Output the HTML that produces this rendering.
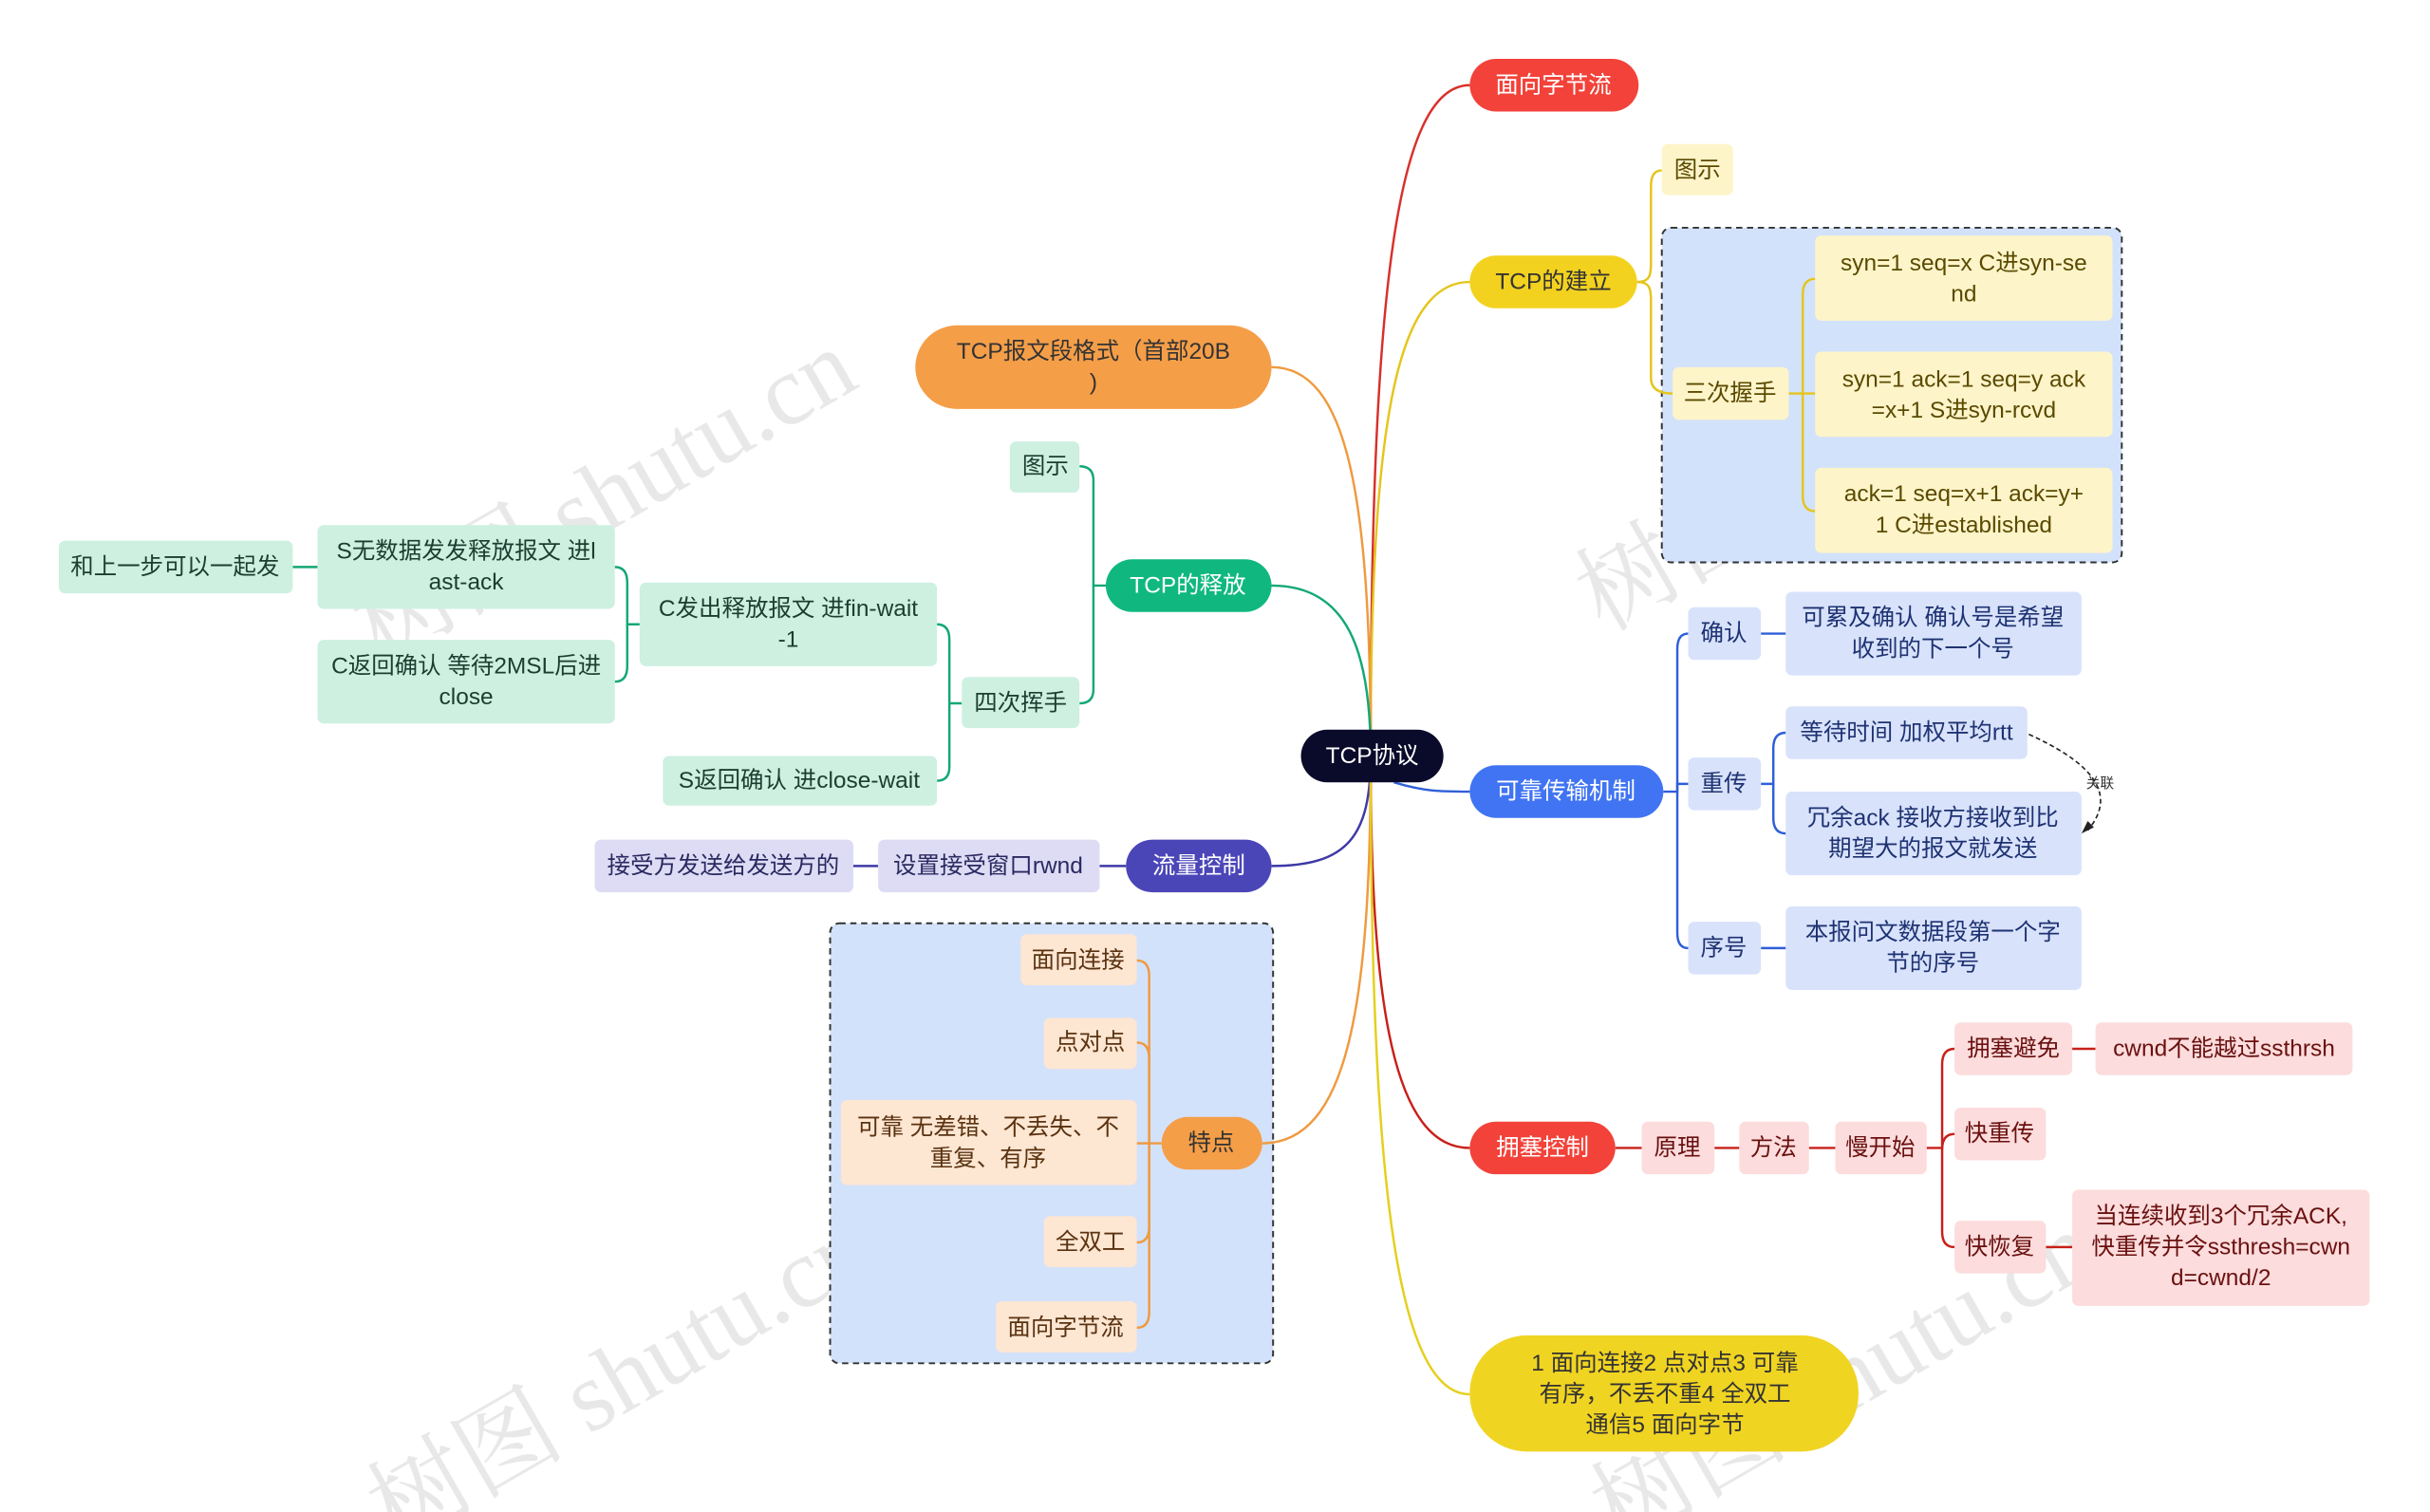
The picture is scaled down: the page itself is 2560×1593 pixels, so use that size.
<!DOCTYPE html>
<html><head><meta charset="utf-8"><style>
html,body{margin:0;padding:0;background:#fff;width:2560px;height:1593px;overflow:hidden}
svg{display:block;overflow:hidden}
text{font-family:"Liberation Sans","Noto Sans CJK SC",sans-serif;font-size:15px;text-anchor:middle;dominant-baseline:central}
</style></head><body>
<svg width="2560" height="1593" viewBox="0 0 1569 976" preserveAspectRatio="none" xmlns="http://www.w3.org/2000/svg">
<defs><clipPath id="c"><rect width="1569" height="976"/></clipPath></defs>
<rect width="1569" height="976" fill="#fff"/>
<g clip-path="url(#c)" fill="#d0d0d0" opacity="0.5">
<text x="390" y="320" transform="rotate(-30 390 320)" style="font-family:'Liberation Serif','Noto Serif CJK SC',serif;font-size:64px">树图 shutu.cn</text>
<text x="1180" y="300" transform="rotate(-30 1180 300)" style="font-family:'Liberation Serif','Noto Serif CJK SC',serif;font-size:64px">树图 shutu.cn</text>
<text x="400" y="890" transform="rotate(-30 400 890)" style="font-family:'Liberation Serif','Noto Serif CJK SC',serif;font-size:64px">树图 shutu.cn</text>
<text x="1190" y="890" transform="rotate(-30 1190 890)" style="font-family:'Liberation Serif','Noto Serif CJK SC',serif;font-size:64px">树图 shutu.cn</text>
</g>
<rect x="1073" y="147" width="297" height="216" rx="6" fill="#d3e2fb" stroke="#333" stroke-dasharray="4 3" stroke-width="1.2"/>
<rect x="536" y="596" width="286" height="284" rx="6" fill="#d3e2fb" stroke="#333" stroke-dasharray="4 3" stroke-width="1.2"/>
<g fill="none" stroke-width="1.5">
<path d="M885 488 C885 200 900 55 949 55" stroke="#d8302a"/>
<path d="M885 488 C885 280 900 182 949 182" stroke="#e5c51c"/>
<path d="M885 488 C885 320 870 237 821 237" stroke="#ef9a40"/>
<path d="M885 488 C885 420 870 378 821 378" stroke="#12a874"/>
<path d="M885 488 C885 540 870 559 821 559" stroke="#3e39a8"/>
<path d="M885 488 C885 650 870 738 815 738" stroke="#ef9a40"/>
<path d="M900 505 C920 511 930 511 949 511" stroke="#2f5fd8"/>
<path d="M885 488 C885 650 900 741 949 741" stroke="#c8201a"/>
<path d="M885 488 C885 750 900 900 949 900" stroke="#e5cf1c"/>
</g>
<g fill="none" stroke="#e5c51c" stroke-width="1.5">
<path d="M1057 182 C1065 182 1066 178 1066 170 L1066 120 Q1066 110 1073 110"/>
<path d="M1057 182 C1065 182 1066 186 1066 194 L1066 244 Q1066 254 1080 254"/>
<path d="M1155 254 L1172 254"/>
<path d="M1172 180 Q1164 180 1164 190 L1164 320 Q1164 330 1172 330"/>
</g>
<g fill="none" stroke="#12a874" stroke-width="1.5">
<path d="M714 378 L706 378 L706 310 Q706 301 697 301"/>
<path d="M706 378 L706 445 Q706 454 697 454"/>
<path d="M621 454 L613 454 L613 413 Q613 403 605 403"/>
<path d="M613 454 L613 495 Q613 504 605 504"/>
<path d="M413 403 L405 403 L405 376 Q405 366 397 366"/>
<path d="M405 403 L405 430 Q405 440 397 440"/>
<path d="M205 366 L189 366"/>
</g>
<path d="M727 559 L710 559 M567 559 L551 559" stroke="#3e39a8" stroke-width="1.5"/>
<g fill="none" stroke="#ef9a40" stroke-width="1.5">
<path d="M750 738 L742 738 L742 630 Q742 620 734 620"/>
<path d="M742 738 L742 683 Q742 673 734 673"/>
<path d="M742 738 L734 738"/>
<path d="M742 738 L742 792 Q742 802 734 802"/>
<path d="M742 738 L742 847 Q742 857 734 857"/>
</g>
<g fill="none" stroke="#2f5fd8" stroke-width="1.5">
<path d="M1074 511 L1083 511 L1083 419 Q1083 409 1090 409"/>
<path d="M1083 511 L1083 506 L1090 506"/>
<path d="M1083 511 L1083 602 Q1083 612 1090 612"/>
<path d="M1137 409 L1153 409 M1137 612 L1153 612"/>
<path d="M1137 506 L1145 506 L1145 483 Q1145 473 1153 473"/>
<path d="M1145 506 L1145 528 Q1145 538 1153 538"/>
</g>
<path d="M1310 474 C1345 490 1370 510 1348 536" fill="none" stroke="#222" stroke-dasharray="3 2" stroke-width="1"/>
<path d="M1344 538 L1352 534 L1348 530 Z" fill="#222"/>
<text x="1356" y="506" style="font-size:9px" fill="#333">关联</text>
<g fill="none" stroke="#c8201a" stroke-width="1.5">
<path d="M1043 741 L1060 741 M1107 741 L1123 741 M1168 741 L1185 741 M1244 741 L1254 741"/>
<path d="M1254 741 L1254 687 Q1254 677 1262 677"/>
<path d="M1254 741 L1254 742 Q1254 732 1262 732"/>
<path d="M1254 741 L1254 795 Q1254 805 1262 805"/>
<path d="M1338 677 L1353 677 M1321 805 L1338 805"/>
</g>
<rect x="840" y="471" width="92" height="34" rx="17" fill="#0a0a2a"/><text x="886" y="488" fill="#fff">TCP协议</text>
<rect x="949" y="38" width="109" height="34" rx="17" fill="#f2423a"/><text x="1003" y="55" fill="#fff">面向字节流</text>
<rect x="949" y="165" width="108" height="34" rx="17" fill="#f3d21f"/><text x="1003" y="182" fill="#333">TCP的建立</text>
<rect x="1073" y="93" width="46" height="33" rx="4" fill="#fdf4c9"/><text x="1096" y="110" fill="#5a4a00">图示</text>
<rect x="1080" y="237" width="75" height="34" rx="4" fill="#fdf4c9"/><text x="1117" y="254" fill="#5a4a00">三次握手</text>
<rect x="1172" y="152" width="192" height="55" rx="4" fill="#fdf4c9"/><text x="1268" y="170" fill="#5a4a00">syn=1 seq=x C进syn-se</text><text x="1268" y="190" fill="#5a4a00">nd</text>
<rect x="1172" y="227" width="192" height="55" rx="4" fill="#fdf4c9"/><text x="1268" y="245" fill="#5a4a00">syn=1 ack=1 seq=y ack</text><text x="1268" y="265" fill="#5a4a00">=x+1 S进syn-rcvd</text>
<rect x="1172" y="302" width="192" height="55" rx="4" fill="#fdf4c9"/><text x="1268" y="319" fill="#5a4a00">ack=1 seq=x+1 ack=y+</text><text x="1268" y="339" fill="#5a4a00">1 C进established</text>
<rect x="591" y="210" width="230" height="54" rx="27" fill="#f59e48"/><text x="706" y="227" fill="#333">TCP报文段格式（首部20B</text><text x="706" y="247" fill="#333">)</text>
<rect x="714" y="361" width="107" height="34" rx="17" fill="#10b87f"/><text x="767" y="378" fill="#fff">TCP的释放</text>
<rect x="652" y="285" width="45" height="33" rx="4" fill="#cdf0e1"/><text x="675" y="301" fill="#1c3d30">图示</text>
<rect x="621" y="437" width="76" height="33" rx="4" fill="#cdf0e1"/><text x="659" y="454" fill="#1c3d30">四次挥手</text>
<rect x="413" y="376" width="192" height="54" rx="4" fill="#cdf0e1"/><text x="509" y="393" fill="#1c3d30">C发出释放报文 进fin-wait</text><text x="509" y="413" fill="#1c3d30">-1</text>
<rect x="428" y="488" width="177" height="32" rx="4" fill="#cdf0e1"/><text x="516" y="504" fill="#1c3d30">S返回确认 进close-wait</text>
<rect x="205" y="339" width="192" height="54" rx="4" fill="#cdf0e1"/><text x="301" y="356" fill="#1c3d30">S无数据发发释放报文 进l</text><text x="301" y="376" fill="#1c3d30">ast-ack</text>
<rect x="205" y="413" width="192" height="54" rx="4" fill="#cdf0e1"/><text x="301" y="430" fill="#1c3d30">C返回确认 等待2MSL后进</text><text x="301" y="450" fill="#1c3d30">close</text>
<rect x="38" y="349" width="151" height="34" rx="4" fill="#cdf0e1"/><text x="113" y="366" fill="#1c3d30">和上一步可以一起发</text>
<rect x="727" y="542" width="94" height="34" rx="17" fill="#4b46b8"/><text x="774" y="559" fill="#fff">流量控制</text>
<rect x="567" y="542" width="143" height="34" rx="4" fill="#dddcf4"/><text x="638" y="559" fill="#2a2860">设置接受窗口rwnd</text>
<rect x="384" y="542" width="167" height="34" rx="4" fill="#dddcf4"/><text x="467" y="559" fill="#2a2860">接受方发送给发送方的</text>
<rect x="750" y="721" width="65" height="34" rx="17" fill="#f59e48"/><text x="782" y="738" fill="#333">特点</text>
<rect x="659" y="603" width="75" height="33" rx="4" fill="#fde6d2"/><text x="696" y="620" fill="#5a3210">面向连接</text>
<rect x="674" y="657" width="60" height="33" rx="4" fill="#fde6d2"/><text x="704" y="673" fill="#5a3210">点对点</text>
<rect x="543" y="710" width="191" height="55" rx="4" fill="#fde6d2"/><text x="638" y="728" fill="#5a3210">可靠 无差错、不丢失、不</text><text x="638" y="748" fill="#5a3210">重复、有序</text>
<rect x="674" y="785" width="60" height="33" rx="4" fill="#fde6d2"/><text x="704" y="802" fill="#5a3210">全双工</text>
<rect x="643" y="840" width="91" height="33" rx="4" fill="#fde6d2"/><text x="688" y="857" fill="#5a3210">面向字节流</text>
<rect x="949" y="494" width="125" height="34" rx="17" fill="#4074f2"/><text x="1011" y="511" fill="#fff">可靠传输机制</text>
<rect x="1090" y="392" width="47" height="34" rx="4" fill="#d8e2fb"/><text x="1113" y="409" fill="#1e3272">确认</text>
<rect x="1153" y="382" width="191" height="54" rx="4" fill="#d8e2fb"/><text x="1248" y="399" fill="#1e3272">可累及确认 确认号是希望</text><text x="1248" y="419" fill="#1e3272">收到的下一个号</text>
<rect x="1090" y="489" width="47" height="34" rx="4" fill="#d8e2fb"/><text x="1113" y="506" fill="#1e3272">重传</text>
<rect x="1153" y="456" width="156" height="34" rx="4" fill="#d8e2fb"/><text x="1231" y="473" fill="#1e3272">等待时间 加权平均rtt</text>
<rect x="1153" y="511" width="191" height="54" rx="4" fill="#d8e2fb"/><text x="1248" y="528" fill="#1e3272">冗余ack 接收方接收到比</text><text x="1248" y="548" fill="#1e3272">期望大的报文就发送</text>
<rect x="1090" y="595" width="47" height="34" rx="4" fill="#d8e2fb"/><text x="1113" y="612" fill="#1e3272">序号</text>
<rect x="1153" y="585" width="191" height="54" rx="4" fill="#d8e2fb"/><text x="1248" y="602" fill="#1e3272">本报问文数据段第一个字</text><text x="1248" y="622" fill="#1e3272">节的序号</text>
<rect x="949" y="724" width="94" height="34" rx="17" fill="#f2423a"/><text x="996" y="741" fill="#fff">拥塞控制</text>
<rect x="1060" y="724" width="47" height="34" rx="4" fill="#fcdcdc"/><text x="1083" y="741" fill="#6a1010">原理</text>
<rect x="1123" y="724" width="45" height="34" rx="4" fill="#fcdcdc"/><text x="1145" y="741" fill="#6a1010">方法</text>
<rect x="1185" y="724" width="59" height="34" rx="4" fill="#fcdcdc"/><text x="1214" y="741" fill="#6a1010">慢开始</text>
<rect x="1262" y="660" width="76" height="34" rx="4" fill="#fcdcdc"/><text x="1300" y="677" fill="#6a1010">拥塞避免</text>
<rect x="1353" y="660" width="166" height="34" rx="4" fill="#fcdcdc"/><text x="1436" y="677" fill="#6a1010">cwnd不能越过ssthrsh</text>
<rect x="1262" y="715" width="59" height="34" rx="4" fill="#fcdcdc"/><text x="1291" y="732" fill="#6a1010">快重传</text>
<rect x="1262" y="788" width="59" height="34" rx="4" fill="#fcdcdc"/><text x="1291" y="805" fill="#6a1010">快恢复</text>
<rect x="1338" y="768" width="192" height="75" rx="4" fill="#fcdcdc"/><text x="1434" y="785" fill="#6a1010">当连续收到3个冗余ACK,</text><text x="1434" y="805" fill="#6a1010">快重传并令ssthresh=cwn</text><text x="1434" y="825" fill="#6a1010">d=cwnd/2</text>
<rect x="949" y="862" width="251" height="75" rx="37" fill="#f0d422"/><text x="1075" y="880" fill="#333">1 面向连接2 点对点3 可靠</text><text x="1075" y="900" fill="#333">有序，不丢不重4 全双工</text><text x="1075" y="920" fill="#333">通信5 面向字节</text>
</svg>
</body></html>
